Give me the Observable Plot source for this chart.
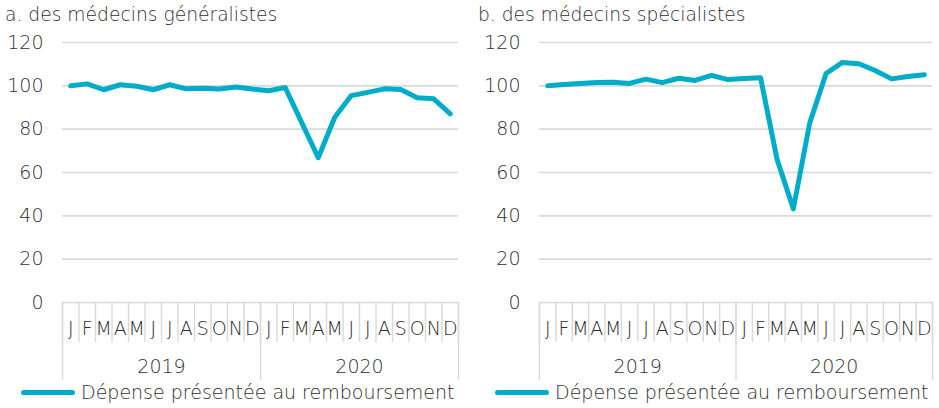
<!DOCTYPE html>
<html>
<head>
<meta charset="utf-8">
<script src="https://cdn.jsdelivr.net/npm/d3@7"></script>
<script src="https://cdn.jsdelivr.net/npm/@observablehq/plot@0.6"></script>
<style>
  html, body { margin: 0; padding: 0; background: #fff; }
  body { width: 939px; height: 408px; overflow: hidden; font-family: "DejaVu Sans", sans-serif; font-weight: 200; color: #2e2e2e; }
  #wrap { display: flex; }
  .panel { position: relative; }
  .title { height: 30px; line-height: 30px; font-size: 18.7px; white-space: nowrap; }
  .legend { position: absolute; top: 380px; height: 24px; line-height: 24px; font-size: 19px; white-space: nowrap; display: flex; align-items: center; }
  .legend .sw { display: inline-block; width: 54px; height: 5px; border-radius: 3px; margin-right: 6px; }
  svg text { font-family: "DejaVu Sans", sans-serif; font-weight: 200; }
</style>
</head>
<body>
<div id="wrap"></div>
<script>
const months = ["J","F","M","A","M","J","J","A","S","O","N","D","J","F","M","A","M","J","J","A","S","O","N","D"];
const years = ["2019", "2020"];
const generalistes = [100, 100.9, 98.2, 100.5, 99.8, 98.2, 100.5, 98.6, 98.9, 98.5, 99.5, 98.5, 97.7, 99.2, 83, 66.8, 85.5, 95.5, 97, 98.6, 98.3, 94.5, 94, 87.1];
const specialistes = [100, 100.6, 101.1, 101.5, 101.7, 101.1, 103.1, 101.5, 103.5, 102.5, 104.8, 102.9, 103.4, 103.7, 66.3, 43.2, 82.8, 105.7, 110.8, 110.2, 107.1, 103.2, 104.3, 105.1];
const panelTitles = ["a. des médecins généralistes", "b. des médecins spécialistes"];
const legendLabel = "Dépense présentée au remboursement";
const yTicks = [0, 20, 40, 60, 80, 100, 120];
const lineColor = "#00ADC9";
const textColor = "#2e2e2e";
const gridColor = "#d9d9d9";

const series = [generalistes, specialistes];
const panelCfg = [
  {width: 470, marginLeft: 62, marginRight: 12, titleLeft: 5, legendLeft: 21},
  {width: 469, marginLeft: 69, marginRight: 7, titleLeft: 8, legendLeft: 25}
];

const wrap = document.getElementById("wrap");
series.forEach((vals, p) => {
  const cfg = panelCfg[p];
  const data = vals.map((v, i) => ({i: i + 0.5, v}));
  const panel = document.createElement("div");
  panel.className = "panel";
  panel.style.width = cfg.width + "px";
  const t = document.createElement("div");
  t.className = "title";
  t.style.paddingLeft = cfg.titleLeft + "px";
  t.textContent = panelTitles[p];
  panel.appendChild(t);

  const chart = Plot.plot({
    width: cfg.width,
    height: 352,
    marginLeft: cfg.marginLeft,
    marginRight: cfg.marginRight,
    marginTop: 12,
    marginBottom: 80,
    style: {background: "transparent", color: textColor, fontSize: "19px", overflow: "visible"},
    x: {type: "linear", domain: [0, 24], axis: null, label: null},
    y: {domain: [0, 120], axis: null, label: null},
    marks: [
      Plot.gridY(yTicks.filter(d => d > 0), {stroke: gridColor, strokeOpacity: 1, strokeWidth: 1.6}),
      Plot.ruleY([0], {stroke: gridColor, strokeWidth: 1.6}),
      Plot.axisY({ticks: yTicks, label: null, tickSize: 0, tickPadding: 19, fontSize: 19, fill: textColor, tickFormat: d => String(d)}),
      Plot.axisX({ticks: d3.range(0, 25), label: null, tickSize: 40, stroke: gridColor, strokeWidth: 1.4, strokeOpacity: 1, tickFormat: () => ""}),
      Plot.axisX({ticks: [0, 12, 24], label: null, tickSize: 78, stroke: gridColor, strokeWidth: 1.4, strokeOpacity: 1, tickFormat: () => ""}),
      Plot.axisX({ticks: d3.range(24).map(i => i + 0.5), label: null, tickSize: 0, tickPadding: 19, fontSize: 19, fill: textColor, tickFormat: d => months[Math.floor(d)]}),
      Plot.axisX({ticks: [6, 18], label: null, tickSize: 0, tickPadding: 57, fontSize: 19, fill: textColor, tickFormat: d => years[Math.floor(d / 12)]}),
      Plot.line(data, {x: "i", y: "v", stroke: lineColor, strokeWidth: 5, strokeLinejoin: "round", strokeLinecap: "round"})
    ]
  });
  chart.style.display = "block";
  panel.appendChild(chart);

  const lg = document.createElement("div");
  lg.className = "legend";
  lg.style.left = cfg.legendLeft + "px";
  const sw = document.createElement("span");
  sw.className = "sw";
  sw.style.background = lineColor;
  lg.appendChild(sw);
  const lt = document.createElement("span");
  lt.textContent = legendLabel;
  lg.appendChild(lt);
  panel.appendChild(lg);
  wrap.appendChild(panel);
});
</script>
</body>
</html>
